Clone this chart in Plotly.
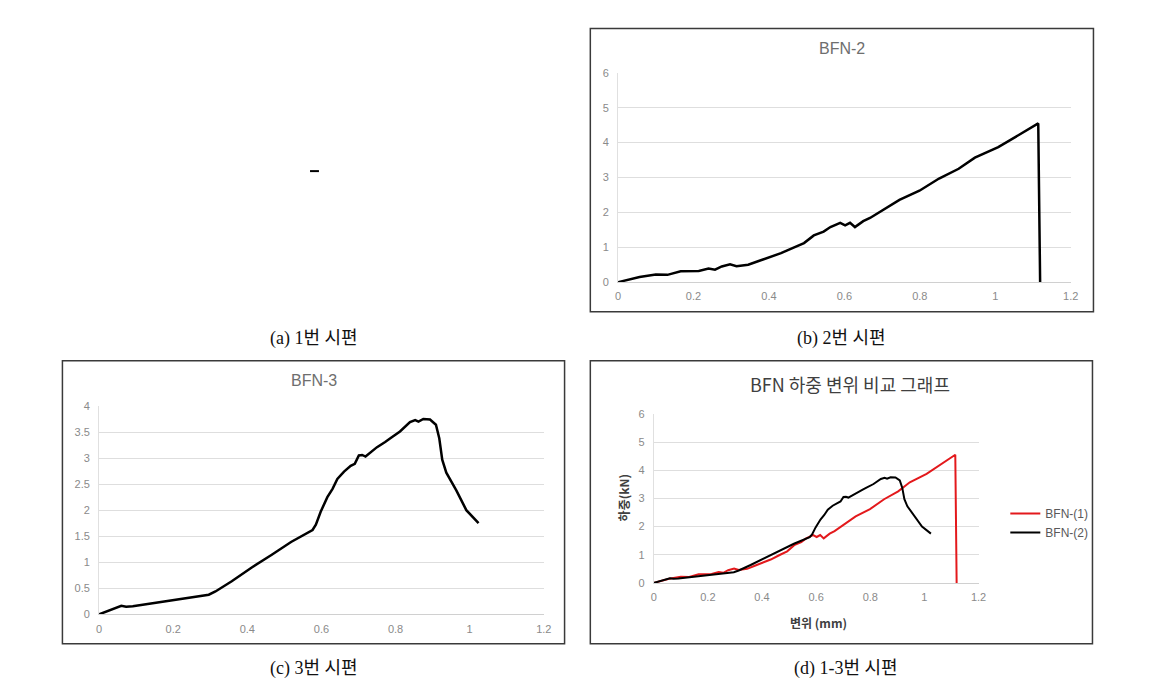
import plotly.graph_objects as go

W, H = 1149, 698

# ---- data ----
bfn2_x = [0, 0.057, 0.10, 0.131, 0.166, 0.214, 0.24, 0.257, 0.275, 0.297, 0.314, 0.345,
          0.371, 0.397, 0.416, 0.432, 0.467, 0.493, 0.519, 0.545, 0.563, 0.58, 0.589, 0.602,
          0.615, 0.628, 0.65, 0.668, 0.694, 0.746, 0.799, 0.851, 0.903, 0.946, 1.008,
          1.06, 1.114, 1.119]
bfn2_y = [0, 0.15, 0.22, 0.21, 0.31, 0.32, 0.39, 0.36, 0.45, 0.51, 0.46, 0.50,
          0.60, 0.69, 0.76, 0.83, 1.0, 1.12, 1.34, 1.45, 1.58, 1.65, 1.70, 1.63,
          1.70, 1.58, 1.75, 1.84, 2.01, 2.36, 2.62, 2.97, 3.25, 3.57, 3.87,
          4.2, 4.55, 0]

bfn3_x = [0, 0.06, 0.073, 0.091, 0.296, 0.314, 0.358, 0.412, 0.465, 0.518, 0.576, 0.585,
          0.598, 0.616, 0.63, 0.643, 0.661, 0.679, 0.69, 0.701, 0.71, 0.719, 0.75, 0.763,
          0.772, 0.786, 0.812, 0.839, 0.853, 0.862, 0.875, 0.893, 0.909, 0.918, 0.926,
          0.937, 0.964, 0.991, 1.024]
bfn3_y = [0, 0.164, 0.145, 0.157, 0.377, 0.44, 0.635, 0.90, 1.14, 1.39, 1.62, 1.72,
          1.97, 2.25, 2.41, 2.60, 2.74, 2.85, 2.89, 3.05, 3.06, 3.03, 3.21, 3.26,
          3.31, 3.38, 3.51, 3.69, 3.73, 3.70, 3.75, 3.74, 3.64, 3.38, 2.97,
          2.72, 2.38, 2.0, 1.75]

x_ticks = [0, 0.2, 0.4, 0.6, 0.8, 1, 1.2]
titles = ["BFN-2", "BFN-3", "BFN 하중 변위 비교 그래프"]
legend_names = ["BFN-(1)", "BFN-(2)"]
captions = ["(a) 1번 시편", "(b) 2번 시편", "(c) 3번 시편", "(d) 1-3번 시편"]
x_title = "변위 (mm)"
y_title = "하중(kN)"

RED = "#e3191c"
BLACK = "#000000"


def px(x):
    return x / W


def py(y):
    return 1 - y / H


fig = go.Figure()

fig.add_trace(go.Scatter(x=bfn2_x, y=bfn2_y, mode="lines", line=dict(color=BLACK, width=2.5),
                         xaxis="x", yaxis="y", showlegend=False))
fig.add_trace(go.Scatter(x=bfn3_x, y=bfn3_y, mode="lines", line=dict(color=BLACK, width=2.5),
                         xaxis="x2", yaxis="y2", showlegend=False))
fig.add_trace(go.Scatter(x=bfn2_x, y=bfn2_y, mode="lines", line=dict(color=RED, width=2),
                         xaxis="x3", yaxis="y3", name=legend_names[0]))
fig.add_trace(go.Scatter(x=bfn3_x, y=bfn3_y, mode="lines", line=dict(color=BLACK, width=2),
                         xaxis="x3", yaxis="y3", name=legend_names[1]))

tickfont = dict(family="Liberation Sans, Arial, sans-serif", size=11, color="#8a8a8a")

def xax(domain, anchor):
    return dict(domain=domain, anchor=anchor, range=[0, 1.2], tickvals=x_ticks,
                showgrid=False, zeroline=False, showline=True, linecolor="#d0d0d0",
                linewidth=1, ticks="", tickfont=tickfont, fixedrange=True,
                ticklabelstandoff=4)

def yax(domain, anchor, rng, dtick):
    return dict(domain=domain, anchor=anchor, range=rng, dtick=dtick, showgrid=True,
                gridcolor="#dedede", gridwidth=1, zeroline=False, showline=True,
                linecolor="#e0e0e0", linewidth=1, ticks="", tickfont=tickfont,
                fixedrange=True, ticklabelstandoff=6)

fig.update_layout(
    width=W, height=H, margin=dict(l=0, r=0, t=0, b=0),
    paper_bgcolor="white", plot_bgcolor="white",
    xaxis=xax([px(621), px(1078)], "y"),
    yaxis=yax([py(281), py(68)], "x", [0, 6], 1),
    xaxis2=xax([px(97), px(546)], "y2"),
    yaxis2=yax([py(619), py(407)], "x2", [0, 4], 0.5),
    xaxis3=xax([px(657), px(985)], "y3"),
    yaxis3=yax([py(587), py(415)], "x3", [0, 6], 1),
    legend=dict(x=px(1012), y=py(526), xanchor="left", yanchor="middle",
                font=dict(family="Liberation Sans, Arial, sans-serif", size=12, color="#595959"),
                bgcolor="rgba(0,0,0,0)", tracegroupgap=0, itemwidth=30),
    showlegend=True,
)

# panel borders
borders = [(593, 23, 1101, 311), (60, 361, 567, 649), (593, 361, 1100, 649)]
for x0, y0, x1, y1 in borders:
    fig.add_shape(type="rect", xref="paper", yref="paper", x0=px(x0), x1=px(x1),
                  y0=py(y1), y1=py(y0), line=dict(color="#3a3a3a", width=1.5))

# small dash in empty panel (a)
fig.add_shape(type="line", xref="paper", yref="paper", x0=px(310), x1=px(319),
              y0=py(168), y1=py(168), line=dict(color="black", width=2))

ann = []
# chart titles
ann.append(dict(text=titles[0], x=px(847), y=py(43), font=dict(family="Liberation Sans, Arial, sans-serif", size=16, color="#6e6e6e")))
ann.append(dict(text=titles[1], x=px(314), y=py(381), font=dict(family="Liberation Sans, Arial, sans-serif", size=16, color="#6e6e6e")))
ann.append(dict(text=titles[2], x=px(855), y=py(385), font=dict(family="Noto Sans CJK KR, sans-serif", size=18, color="#404040")))
# axis titles panel d
ann.append(dict(text="<b>" + x_title + "</b>", x=px(823), y=py(627), font=dict(family="Noto Sans CJK KR, sans-serif", size=12, color="#404040")))
ann.append(dict(text="<b>" + y_title + "</b>", x=px(626), y=py(501), textangle=-90, font=dict(family="Noto Sans CJK KR, sans-serif", size=12, color="#404040")))
# captions
cap_pos = [(314, 338), (847, 338), (314, 674), (851, 674)]
for t, (cx, cy) in zip(captions, cap_pos):
    ann.append(dict(text=t, x=px(cx), y=py(cy), font=dict(family="Liberation Serif, Noto Sans CJK KR, serif", size=18, color="#111111")))

for a in ann:
    a.update(xref="paper", yref="paper", showarrow=False, xanchor="center", yanchor="middle")
    fig.add_annotation(**a)

fig.write_html("out.html")
